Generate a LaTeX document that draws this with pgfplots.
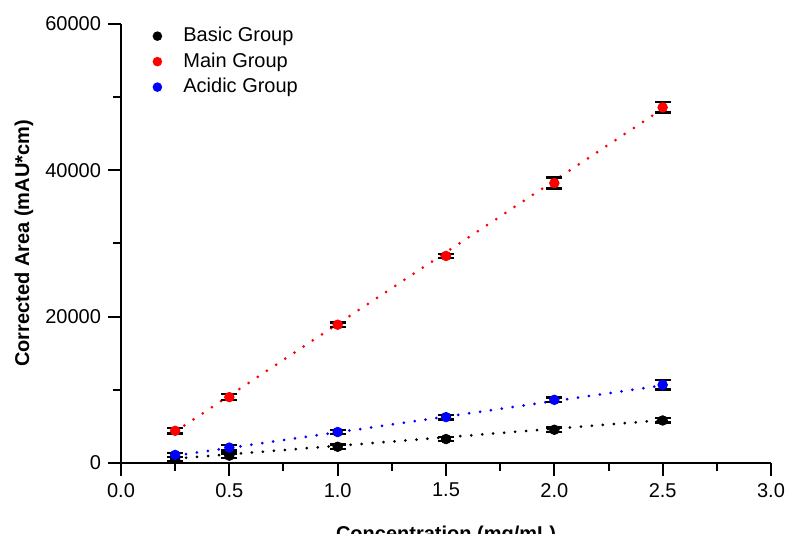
\documentclass[border=0pt]{standalone}
\usepackage{pgfplots}
\pgfplotsset{compat=1.18}
\usepackage{fontspec}
\setmainfont{Liberation Sans}
\begin{document}
\begin{tikzpicture}
\begin{axis}[
  name=ax,
  scale only axis,
  width=325pt, height=219.5pt,
  xmin=0, xmax=3, ymin=0, ymax=60000,
  axis lines=left,
  axis line style={-, line width=1pt},
  xtick={0,0.5,...,3}, minor x tick num=1,
  ytick={0,20000,40000,60000}, minor y tick num=1,
  tick align=outside,
  major tick length=6.5pt, minor tick length=4pt,
  every tick/.style={black, line width=1pt},
  scaled y ticks=false,
  /pgf/number format/assume math mode=true,
  yticklabel style={/pgf/number format/1000 sep={}},
  xticklabel style={/pgf/number format/.cd, fixed, fixed zerofill, precision=1},
  ylabel={\textbf{Corrected Area (mAU*cm)}},
  xlabel={\textbf{Concentration (mg/mL)}},
  every axis y label/.style={at={(axis description cs:0,0.5)}, xshift=-48.5pt, rotate=90, anchor=center},
  every axis x label/.style={at={(axis description cs:0.5,0)}, yshift=-28pt, anchor=north},
  legend style={draw=none, fill=none, at={(axis description cs:0.0,1.0)}, anchor=north west, xshift=5pt, yshift=2.5pt, row sep=0pt, font=\normalsize},
  legend cell align=left,
  legend image code/.code={\path[draw=none, fill=none] (-10pt,-2.4pt) rectangle (11pt,2.4pt); \fill[#1, draw=none] (0pt,0pt) circle (2.4pt);},
  error bars/error bar style={black, line width=1pt},
  error bars/error mark options={rotate=90, mark size=4pt, line width=1.2pt, black},
]
% fit lines
\addplot[forget plot, black, line width=1.5pt, dash pattern=on 0pt off 5.5pt, line cap=round] coordinates {(0.25,600) (2.5,5850)};
\addplot[forget plot, red, line width=1.5pt, dash pattern=on 0pt off 5.5pt, line cap=round] coordinates {(0.25,4300) (2.5,48400)};
\addplot[forget plot, blue, line width=1.5pt, dash pattern=on 0pt off 5.5pt, line cap=round] coordinates {(0.25,1000) (2.5,10600)};
% data
\addplot[only marks, mark=*, mark size=2.4pt, black, error bars/y dir=both, error bars/y explicit] coordinates {
 (0.25,550) +- (0,300)
 (0.5,1000) +- (0,300)
 (1.0,2220) +- (0,300)
 (1.5,3270) +- (0,300)
 (2.0,4540) +- (0,300)
 (2.5,5810) +- (0,300)
};
\addlegendentry{Basic Group}
\addplot[only marks, mark=*, mark size=2.4pt, red, error bars/y dir=both, error bars/y explicit] coordinates {
 (0.25,4400) +- (0,350)
 (0.5,9000) +- (0,400)
 (1.0,18900) +- (0,300)
 (1.5,28300) +- (0,300)
 (2.0,38250) +- (0,750)
 (2.5,48600) +- (0,700)
};
\addlegendentry{Main Group}
\addplot[only marks, mark=*, mark size=2.4pt, blue, error bars/y dir=both, error bars/y explicit] coordinates {
 (0.25,1100) +- (0,300)
 (0.5,2100) +- (0,400)
 (1.0,4230) +- (0,300)
 (1.5,6270) +- (0,300)
 (2.0,8630) +- (0,300)
 (2.5,10680) +- (0,650)
};
\addlegendentry{Acidic Group}
\end{axis}
\pgfresetboundingbox
\path (ax.south west) ++(-60.5pt,-35.5pt) rectangle ++(394pt,267pt);
\end{tikzpicture}
\end{document}
